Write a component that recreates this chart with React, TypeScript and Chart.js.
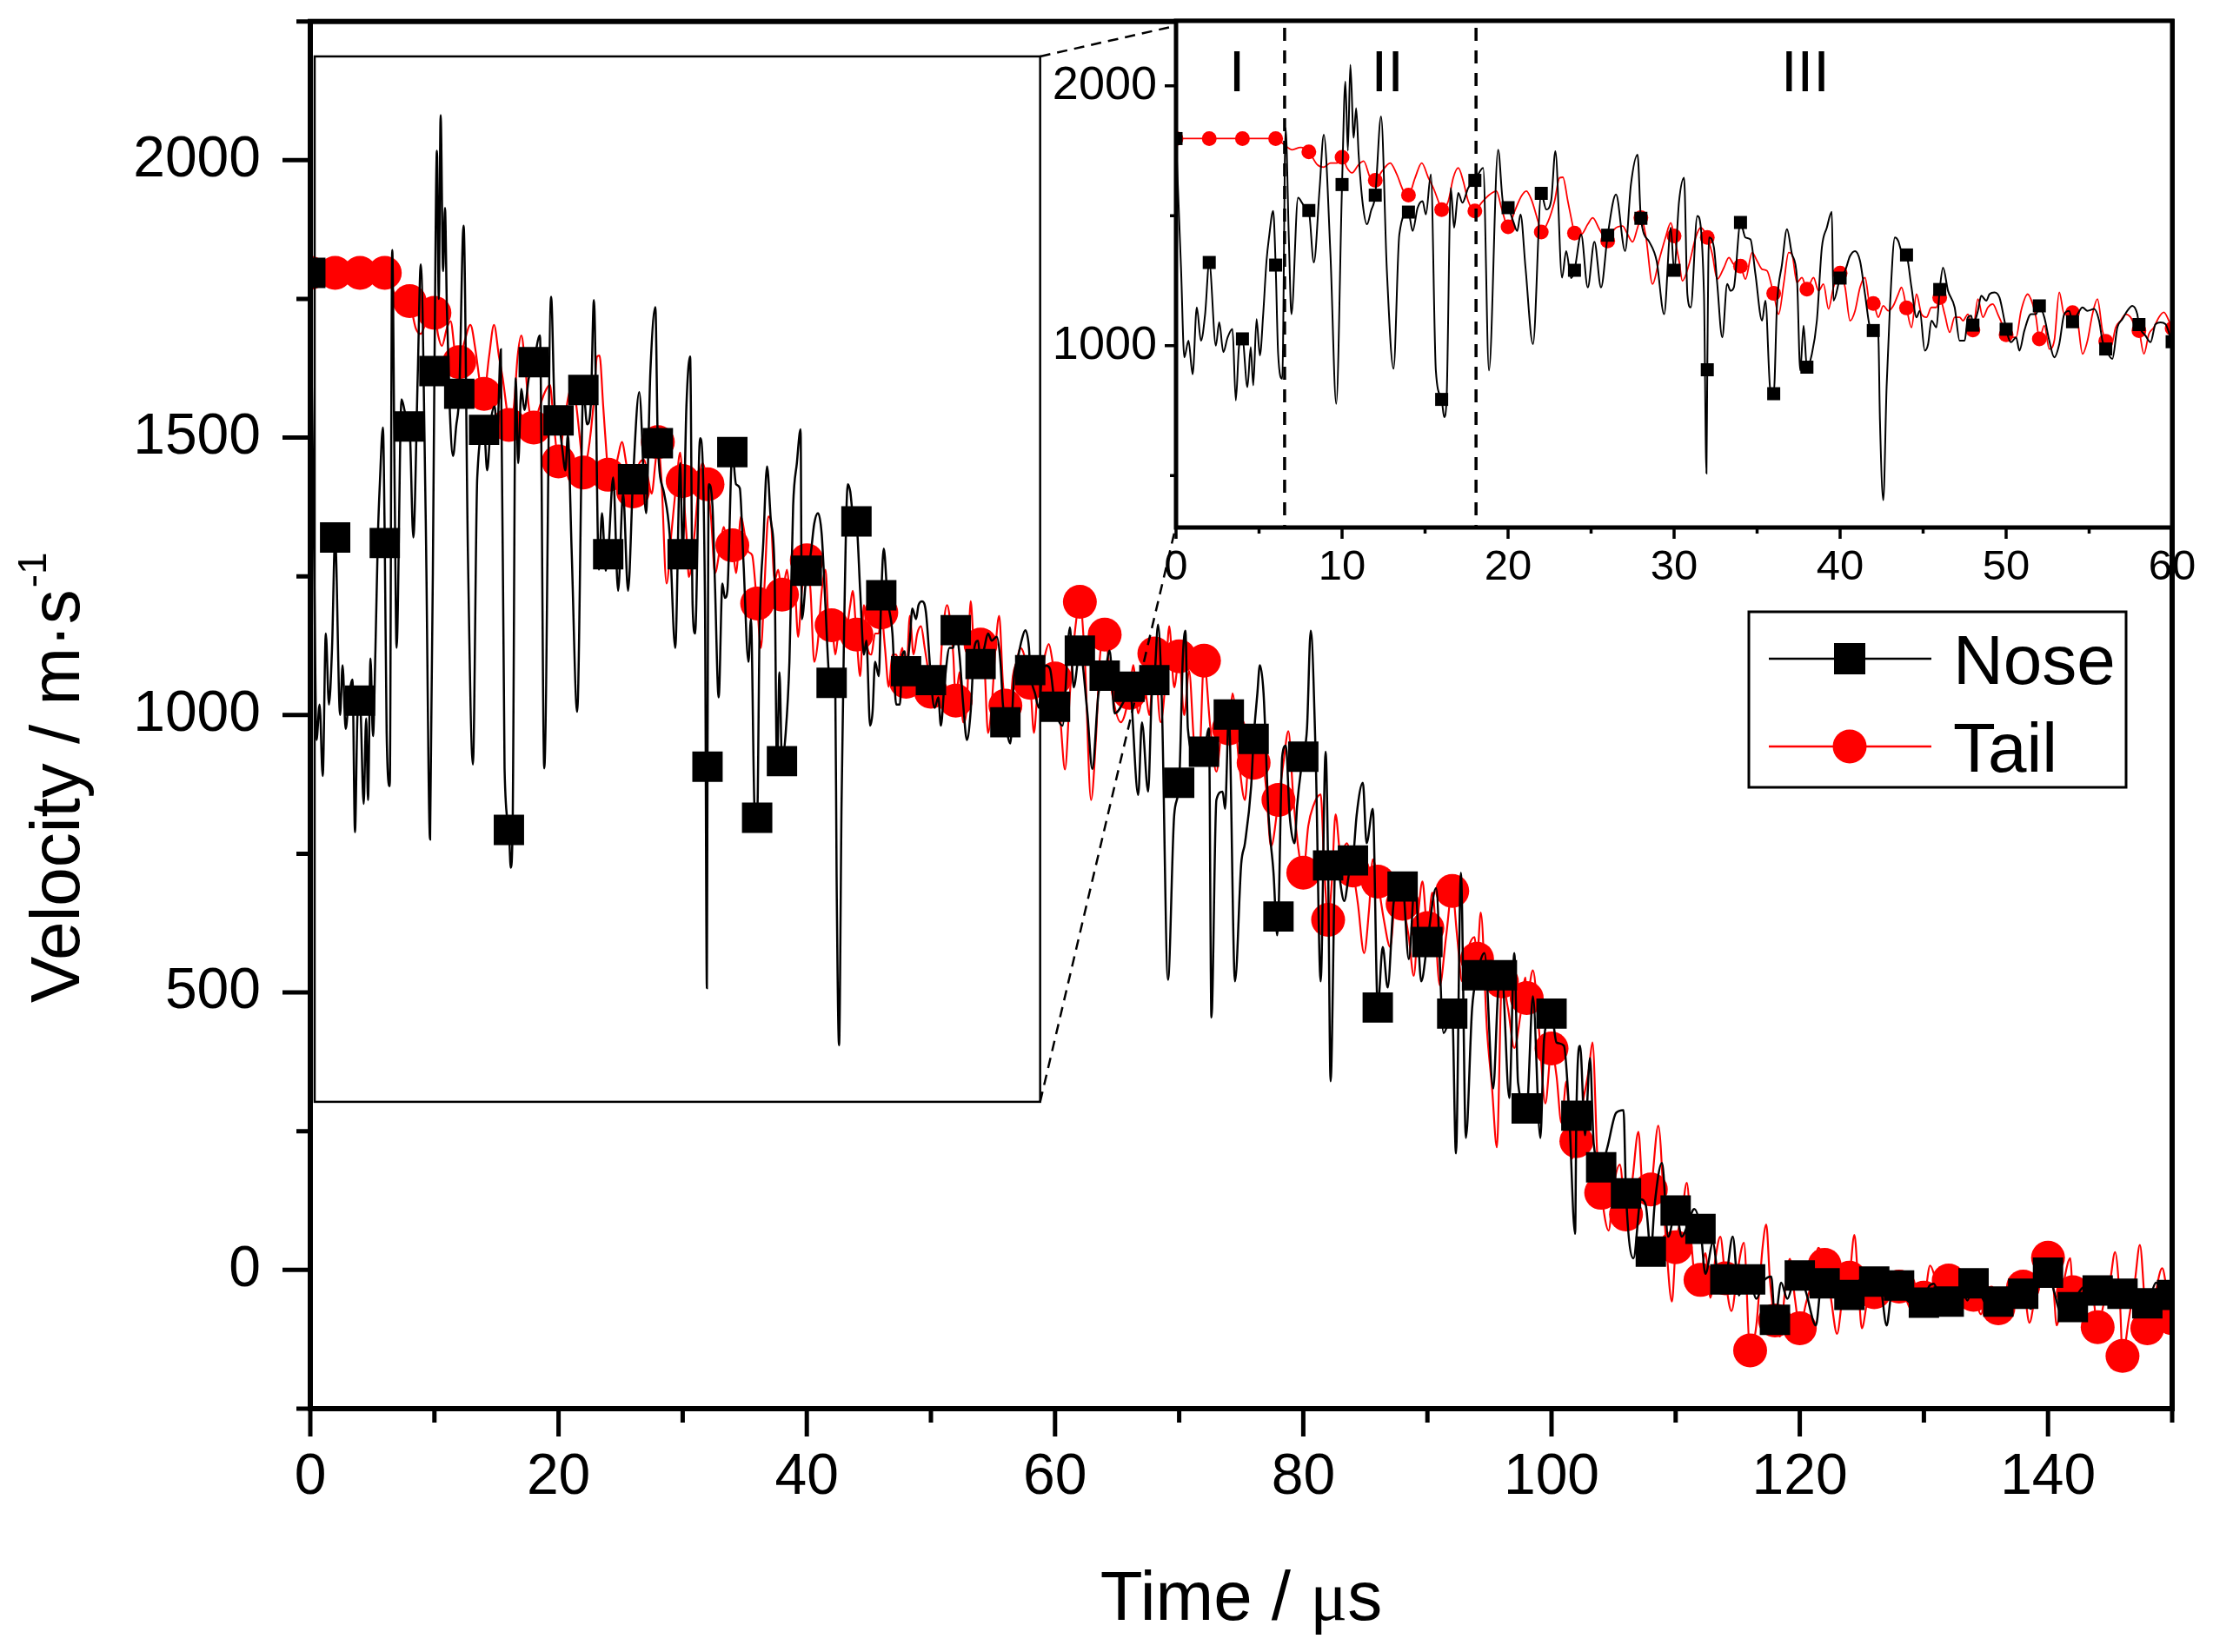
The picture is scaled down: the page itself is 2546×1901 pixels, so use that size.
import React, { useEffect, useRef } from 'react';
import { Chart, registerables } from 'chart.js';

Chart.register(...registerables);

const FONT = '"Liberation Sans", Arial, Helvetica, sans-serif';
const SERIF = '"Liberation Serif", "DejaVu Serif", serif';

// ---------- data: [time (µs), velocity (m/s)] readings ----------
const noseA: number[][] = [
  [0, 1797], [0.3, 1300], [0.5, 955], [0.75, 1019], [1, 890], [1.25, 1147], [1.5, 1019], [1.75, 1120],
  [2, 1320], [2.4, 1000], [2.6, 1090], [2.85, 975], [3.1, 1030], [3.4, 1064], [3.6, 789], [3.8, 1000],
  [4, 1026], [4.3, 840], [4.5, 994], [4.65, 847], [4.85, 1102], [5.05, 962], [5.25, 1121], [5.45, 1326],
  [5.6, 1416], [5.85, 1518], [6, 1310], [6.15, 968], [6.4, 872], [6.6, 1838], [6.8, 1400], [6.95, 1121],
  [7.35, 1569], [7.7, 1540], [8, 1520], [8.3, 1320], [8.65, 1607], [8.9, 1812], [9.3, 1352], [9.65, 776],
  [10, 1620], [10.2, 2017], [10.35, 1750], [10.5, 2081], [10.7, 1800], [10.85, 1914], [11, 1735], [11.25, 1543],
  [11.5, 1467], [11.75, 1520], [12, 1579], [12.35, 1882], [12.7, 1288], [13.1, 911], [13.45, 1428], [14, 1514],
  [14.25, 1441], [14.55, 1530], [14.85, 1556], [15.05, 1505], [15.35, 1659], [15.65, 904], [16, 793], [16.15, 725],
  [16.3, 800], [16.55, 1607], [16.75, 1454], [17, 1588], [17.25, 1550], [17.6, 1607], [18, 1636], [18.5, 1684],
  [18.85, 904], [19.4, 1754], [19.7, 1550], [20, 1531], [20.3, 1480], [20.55, 1441], [20.75, 1505], [21.05, 1300],
  [21.5, 1006], [22, 1586], [22.3, 1524], [22.6, 1560], [22.85, 1748], [23.25, 1262], [23.5, 1364], [23.8, 1260],
  [24, 1290], [24.4, 1428], [24.8, 1224], [25.2, 1400], [25.6, 1224], [26, 1425], [26.5, 1582], [27.05, 1364],
  [27.4, 1620], [27.8, 1735], [28, 1490], [28.5, 1400], [28.95, 1326], [29.4, 1121], [29.8, 1454],
];
const noseB: number[][] = [
  [30, 1290], [30.3, 1556], [30.6, 1646], [30.8, 1198], [31, 1147], [31.4, 1499], [31.8, 1198], [31.95, 508],
  [32, 907], [32.1, 1416], [32.4, 1377], [32.6, 1237], [32.9, 1032], [33.2, 1237], [33.4, 1211], [33.6, 1224],
  [34, 1474], [34.3, 1416], [34.6, 1409], [34.9, 1275], [35.3, 1096], [35.5, 1173], [35.8, 827], [36, 815],
  [36.2, 1160], [36.5, 1313], [36.8, 1448], [37.1, 1352], [37.4, 1262], [37.6, 904], [37.8, 1077], [38, 917],
  [38.3, 968], [38.6, 1096], [38.9, 1377], [39.2, 1454], [39.5, 1515], [39.6, 1173], [40, 1260], [40.3, 1288],
  [40.6, 1345], [40.9, 1364], [41.2, 1326], [41.5, 1198], [41.8, 1070], [42, 1058], [42.3, 1038], [42.4, 712],
  [42.6, 405], [42.8, 840], [43, 1147], [43.3, 1416], [43.5, 1403], [43.7, 1364], [44, 1349], [44.3, 1224],
  [44.6, 1109], [44.8, 1134], [45.1, 981], [45.3, 1006], [45.5, 1096], [45.8, 1070], [46, 1216], [46.2, 1300],
  [46.5, 1211], [46.9, 1147], [47.2, 1019], [47.5, 1019], [47.7, 1109], [47.9, 1115], [48, 1079], [48.3, 1134],
  [48.5, 1192], [48.8, 1173], [49, 1198], [49.3, 1205], [49.6, 1185], [49.9, 1096], [50, 1063], [50.3, 1013],
  [50.6, 1032], [50.8, 981], [51.1, 1058], [51.5, 1121], [51.8, 1121], [52, 1153], [52.3, 1109], [52.6, 1019],
  [52.9, 955], [53.2, 1006], [53.5, 1121], [53.8, 1134], [54, 1092], [54.3, 1121], [54.6, 1147], [54.9, 1134],
  [55.3, 1141], [55.6, 1096], [55.8, 1019], [56, 987], [56.4, 949], [56.7, 1070], [57, 1102], [57.3, 1134],
  [57.6, 1153], [57.9, 1121], [58, 1081], [58.4, 1038], [58.7, 1013], [59, 1083], [59.3, 1089], [59.6, 1083],
  [59.9, 1032],
];
const noseC: number[][] = [
  [60, 1015], [60.6, 981], [61.2, 1158], [61.5, 1050], [62, 1116], [62.6, 1005], [63, 903], [63.5, 1039],
  [64, 1071], [64.4, 1116], [64.8, 1003], [65.5, 1023], [66, 1051], [66.7, 856], [67, 987], [67.5, 862],
  [67.8, 1039], [68, 1063], [68.3, 1163], [68.6, 1028], [69.1, 523], [69.6, 820], [70, 878], [70.3, 1106],
  [70.5, 1152], [70.7, 976], [71.3, 925], [72, 934], [72.4, 976], [72.6, 455], [73, 847], [73.5, 862],
  [73.7, 831], [74, 1001], [74.5, 520], [75, 732], [75.3, 769], [75.8, 872], [76, 957], [76.3, 1039],
  [76.5, 1090], [76.8, 1039], [77.2, 820], [77.6, 716], [77.9, 603], [78, 637], [78.3, 925], [78.6, 945],
  [78.9, 820], [79.3, 769], [79.5, 836], [79.8, 898], [80, 925], [80.3, 976], [80.6, 1152], [81, 925],
  [81.4, 520], [81.8, 934], [82, 729], [82.2, 340], [82.6, 743], [83.3, 665], [83.7, 716], [84, 738],
  [84.3, 820], [84.8, 878], [85.1, 769], [85.6, 831], [86, 473], [86.4, 582], [86.8, 509], [87.3, 665],
  [88, 691], [88.5, 560], [89, 700], [89.5, 520],
];
const noseD: number[][] = [
  [90, 591], [90.7, 688], [91.3, 427], [92, 462], [92.3, 210], [92.7, 716], [93.1, 238], [93.6, 471],
  [94, 531], [94.6, 571], [95.3, 327], [95.7, 504], [96, 531], [96.6, 310], [97, 571], [97.3, 338],
  [98, 291], [98.5, 493], [99.1, 238], [99.4, 416], [100, 462], [100.4, 410], [101, 404], [101.4, 293],
  [101.9, 65], [102, 278], [102.3, 404], [102.7, 243], [103.1, 382], [103.4, 227], [104, 185], [104.5, 221],
  [105.2, 283], [105.8, 288], [106, 138], [106.6, 21], [107.2, 127], [107.6, 116], [108, 33], [108.3, 116],
  [108.9, 193], [109.4, 60], [110, 107], [110.5, 60], [110.9, 77], [111.5, 110], [112, 74], [112.4, -7],
  [113, 49], [113.5, -20], [114, -17], [114.6, 60], [115.1, -46], [115.6, -10], [116, -17], [116.5, -52],
  [117.1, -20], [117.7, -12], [118, -90], [118.5, -23], [119, -52], [119.5, -20],
];
const noseE: number[][] = [
  [120, -10], [120.5, -40], [121.3, -100], [121.7, -30], [122, -24], [122.5, -40], [123, -20], [123.5, -50],
  [124, -45], [124.5, -30], [125, -15], [125.5, -25], [126, -21], [126.5, -30], [127, -100], [127.4, -40],
  [128, -28], [128.5, -50], [129, -60], [129.5, -45], [130, -59], [130.4, -30], [130.8, -25], [131.2, -45],
  [132, -57], [132.5, -40], [133, -30], [133.5, -55], [134, -24], [134.5, -40], [135, -60], [135.5, -50],
  [136, -57], [136.5, -45], [137, -35], [137.5, -50], [138, -43], [138.6, -70], [139.2, -30], [140, -5],
  [140.5, -40], [141, -75], [141.5, -60], [142, -67], [142.5, -40], [143, -30], [143.5, -35], [144, -37],
  [144.5, -45], [145, -30], [145.5, -40], [146, -43], [146.5, -64], [147, -45], [147.5, -50], [148, -60],
  [148.7, -23], [149.3, -40], [150, -45],
];

const tailA: number[][] = [
  [0, 1797], [2, 1797], [4, 1797], [6, 1797], [6.5, 1774], [7, 1754], [7.5, 1763], [8, 1746],
  [8.5, 1697], [8.9, 1687], [9.3, 1703], [9.7, 1703], [10, 1725], [10.3, 1684], [10.6, 1665], [11, 1697],
  [11.3, 1710], [11.7, 1646], [12, 1636], [12.4, 1671], [12.9, 1703], [13.3, 1659], [13.7, 1595], [14, 1579],
  [14.4, 1646], [14.8, 1703], [15.2, 1646], [15.5, 1607], [15.8, 1556], [16, 1523], [16.4, 1556], [16.7, 1646],
  [17, 1684], [17.3, 1633], [17.6, 1556], [18, 1518], [18.4, 1550], [18.9, 1582], [19.3, 1595], [19.6, 1531],
  [20, 1457], [20.4, 1518], [20.8, 1575], [21.1, 1595], [21.4, 1563], [21.8, 1480], [22, 1437], [22.4, 1476],
  [22.8, 1556], [23.1, 1646], [23.3, 1648], [23.6, 1556], [23.9, 1460], [24, 1433], [24.4, 1428], [24.8, 1467],
  [25.1, 1492], [25.5, 1448], [26, 1403], [26.4, 1448], [26.9, 1460], [27.2, 1428], [27.5, 1399], [27.8, 1454],
  [28, 1492], [28.3, 1420], [28.7, 1237], [29.1, 1330], [29.5, 1420], [29.8, 1473],
];
const tailB: number[][] = [
  [30, 1422], [30.3, 1326], [30.5, 1249], [30.9, 1313], [31.3, 1416], [31.6, 1454], [32, 1416], [32.3, 1352],
  [32.6, 1256], [33, 1300], [33.3, 1339], [33.6, 1313], [34, 1306], [34.3, 1256], [34.7, 1358], [35, 1326],
  [35.3, 1294], [35.6, 1288], [35.9, 1224], [36, 1201], [36.3, 1121], [36.6, 1237], [36.9, 1358], [37.1, 1352],
  [37.4, 1243], [37.7, 1262], [38, 1217], [38.4, 1262], [38.7, 1211], [39, 1237], [39.3, 1141], [39.6, 1224],
  [40, 1279], [40.3, 1224], [40.6, 1096], [40.9, 1134], [41.2, 1224], [41.5, 1262], [41.8, 1160], [42, 1162],
  [42.3, 1109], [42.6, 1153], [42.9, 1134], [43.2, 1153], [43.5, 1198], [43.7, 1224], [44, 1145], [44.3, 1070],
  [44.6, 1198], [44.9, 1121], [45.2, 1109], [45.5, 1147], [45.8, 1147], [46, 1185], [46.3, 1121], [46.6, 1051],
  [46.9, 1109], [47.2, 1109], [47.4, 1096], [47.7, 1121], [48, 1060], [48.3, 1179], [48.6, 1109], [48.9, 1147],
  [49.2, 1160], [49.5, 1121], [49.8, 1077], [50, 1042], [50.3, 1032], [50.6, 1032], [50.9, 1134], [51.3, 1198],
  [51.6, 1160], [51.8, 1109], [52, 1026], [52.3, 1077], [52.6, 987], [52.9, 1019], [53.2, 1205], [53.5, 1121],
  [53.8, 1121], [54, 1127], [54.3, 1096], [54.6, 968], [54.9, 1019], [55.2, 1121], [55.5, 1179], [55.8, 1058],
  [56, 1017], [56.3, 994], [56.6, 1070], [56.9, 1096], [57.2, 1121], [57.5, 1109], [57.8, 1070], [58, 1058],
  [58.3, 968], [58.6, 1045], [58.9, 1070], [59.2, 1109], [59.5, 1128], [59.8, 1096],
];
const tailC: number[][] = [
  [60, 1066], [60.4, 1000], [60.8, 902], [61.2, 1040], [61.6, 1150], [62, 1204], [62.4, 1100], [62.9, 847],
  [63.3, 960], [63.6, 1100], [64, 1145], [64.6, 1039], [65.3, 987], [66, 1040], [66.3, 1090], [66.7, 1003],
  [67.2, 1050], [67.6, 1000], [68, 1111], [68.5, 987], [68.9, 1060], [69.2, 1160], [69.6, 1050], [70, 1106],
  [70.4, 1000], [70.8, 1080], [71.2, 950], [71.6, 914], [72, 1098], [72.5, 980], [73, 898], [73.5, 980],
  [74, 976], [74.3, 1039], [74.8, 920], [75.3, 847], [75.7, 950], [76, 914], [76.5, 950], [77, 870],
  [77.4, 763], [78, 847], [78.4, 914], [78.8, 971], [79.2, 850], [79.6, 760], [80, 716], [80.4, 800],
  [80.8, 836], [81.4, 857], [81.7, 720], [82, 631], [82.3, 700], [82.6, 821], [83, 750], [83.5, 769],
  [84, 720], [84.4, 660], [84.9, 571], [85.3, 650], [85.6, 740], [86, 700], [86.5, 630], [87, 582],
  [87.5, 690], [88, 660], [88.5, 600], [88.9, 530], [89.3, 650], [89.6, 700],
];
const tailD: number[][] = [
  [90, 616], [90.4, 680], [91, 513], [91.5, 600], [92, 683], [92.4, 600], [92.8, 520], [93.3, 580],
  [93.8, 600], [94, 561], [94.3, 644], [94.8, 432], [95.2, 330], [95.6, 221], [96, 520], [96.5, 470],
  [97, 400], [97.5, 460], [97.9, 527], [98, 490], [98.5, 540], [99, 430], [99.5, 300], [100, 399],
  [100.4, 350], [100.8, 265], [101.2, 340], [101.6, 200], [102, 232], [102.5, 300], [103, 360], [103.3, 410],
  [103.7, 200], [104, 139], [104.6, 71], [105, 150], [105.5, 190], [106, 100], [106.5, 160], [107, 249],
  [107.4, 130], [108, 145], [108.6, 260], [109.2, 60], [109.7, -57], [110, 41], [110.5, 100], [110.9, 157],
  [111.3, 40], [111.7, -40], [112, -18], [112.4, 30], [112.8, -50], [113.2, 20], [113.6, 60], [114, -15],
  [114.5, -74], [115, 0], [115.5, 49], [116, -145], [116.5, -100], [117, 40], [117.3, 82], [117.6, -20],
  [118, -91], [118.4, -120], [118.8, -40], [119.2, 20], [119.6, -50],
];
const tailE: number[][] = [
  [120, -105], [120.5, -60], [121, -20], [121.5, 40], [122, 9], [122.5, -50], [123, -115], [123.5, -40],
  [124, -14], [124.4, 63], [124.7, -20], [125, -105], [125.5, -50], [126, -40], [126.5, -30], [127, -45],
  [127.5, -20], [128, -30], [128.5, -50], [129.2, -80], [129.7, -30], [130, -50], [130.5, 8], [131, -20],
  [131.5, -40], [132, -19], [132.5, -30], [133, -10], [133.5, -40], [134, -45], [134.6, -80], [135, -40],
  [135.5, -30], [136, -69], [136.5, -40], [137, -20], [137.5, -45], [138, -30], [138.5, -95], [139, -40],
  [139.5, 10], [140, 22], [140.4, -20], [140.7, -100], [141.2, -30], [141.8, 21], [142, -40], [142.5, -20],
  [143, -60], [143.5, -30], [144, -103], [144.5, -60], [145, -20], [145.4, 32], [145.8, -60], [146, -155],
  [146.5, -90], [147, -20], [147.4, 45], [147.8, -60], [148, -105], [148.5, -60], [149.2, 3], [149.6, -40],
  [150, -87],
];

const SERIES_NAMES = ['Nose', 'Tail'];
const MARKER_EVERY = 2; // µs between plotted symbols

// ---------- ticks / labels ----------
const mainXLabels = [0, 20, 40, 60, 80, 100, 120, 140];
const mainXMinor = [10, 30, 50, 70, 90, 110, 130, 150];
const mainYLabels = [0, 500, 1000, 1500, 2000];
const mainYMinor = [-250, 250, 750, 1250, 1750, 2250];
const insetXLabels = [0, 10, 20, 30, 40, 50, 60];
const insetXMinor = [5, 15, 25, 35, 45, 55];
const insetYLabels = [1000, 2000];
const insetYMinor = [500, 1500];
const regionNames = ['I', 'II', 'III'];
const regionNameTimes = [3.67, 12.73, 37.9];
const regionBounds = [6.54, 18.07];

const toPoints = (...segs: number[][][]) => segs.flat().map(([x, y]) => ({ x, y }));
const nosePoints = toPoints(noseA, noseB, noseC, noseD, noseE);
const tailPoints = toPoints(tailA, tailB, tailC, tailD, tailE);

const isMarkerTime = (x: number) =>
  Math.abs(x / MARKER_EVERY - Math.round(x / MARKER_EVERY)) < 1e-6;

function drawFrame(chart: any, s: any) {
  const { ctx, chartArea: a } = chart;
  const xs = chart.scales.x;
  const ys = chart.scales.y;
  ctx.save();
  ctx.strokeStyle = '#000';
  ctx.lineWidth = s.tickWidth;
  ctx.lineCap = 'butt';
  ctx.beginPath();
  const xt = (vals: number[], len: number) => vals.forEach((v) => {
    const p = xs.getPixelForValue(v);
    ctx.moveTo(p, a.bottom);
    ctx.lineTo(p, a.bottom + len);
  });
  const yt = (vals: number[], len: number) => vals.forEach((v) => {
    const p = ys.getPixelForValue(v);
    ctx.moveTo(a.left, p);
    ctx.lineTo(a.left - len, p);
  });
  xt(s.xMajor, s.major);
  xt(s.xMinor, s.minor);
  yt(s.yMajor, s.major);
  yt(s.yMinor, s.minor);
  ctx.stroke();
  ctx.lineWidth = s.frameWidth;
  ctx.lineJoin = 'miter';
  ctx.strokeRect(a.left, a.top, a.right - a.left, a.bottom - a.top);
  ctx.restore();
}

const zoomBox = { x0: 0.35, x1: 58.8, y0: 303, y1: 2187 };
const insetCorner = { x: 69.7, yTop: 2242, yBottom: 1337 };

const mainDecor = {
  id: 'mainDecor',
  beforeDraw(chart: any) {
    const { ctx, width, height } = chart;
    ctx.save();
    ctx.fillStyle = '#fff';
    ctx.fillRect(0, 0, width, height);
    ctx.restore();
  },
  afterDatasetsDraw(chart: any) {
    const { ctx } = chart;
    const xs = chart.scales.x;
    const ys = chart.scales.y;
    const bx0 = xs.getPixelForValue(zoomBox.x0);
    const bx1 = xs.getPixelForValue(zoomBox.x1);
    const by0 = ys.getPixelForValue(zoomBox.y0);
    const by1 = ys.getPixelForValue(zoomBox.y1);
    ctx.save();
    ctx.strokeStyle = '#000';
    ctx.lineWidth = 2.5;
    ctx.strokeRect(bx0, by1, bx1 - bx0, by0 - by1);
    ctx.setLineDash([12, 8]);
    ctx.lineWidth = 2.5;
    const ix = xs.getPixelForValue(insetCorner.x);
    ctx.beginPath();
    ctx.moveTo(bx1, by1);
    ctx.lineTo(ix, ys.getPixelForValue(insetCorner.yTop));
    ctx.moveTo(bx1, by0);
    ctx.lineTo(ix, ys.getPixelForValue(insetCorner.yBottom));
    ctx.stroke();
    ctx.restore();
  },
  afterDraw(chart: any) {
    drawFrame(chart, {
      tickWidth: 5, frameWidth: 6, major: 32, minor: 16,
      xMajor: mainXLabels, xMinor: mainXMinor, yMajor: mainYLabels, yMinor: mainYMinor,
    });
    const { ctx } = chart;
    ctx.save();
    ctx.fillStyle = '#000';
    ctx.textBaseline = 'alphabetic';
    // x title
    const p1 = 'Time / ';
    const p2 = '\u03bc';
    const p3 = 's';
    ctx.font = `80px ${FONT}`;
    const w1 = ctx.measureText(p1).width;
    const w3 = ctx.measureText(p3).width;
    ctx.font = `80px ${SERIF}`;
    const w2 = ctx.measureText(p2).width;
    const tx = 1428 - (w1 + w2 + w3) / 2;
    const ty = 1864;
    ctx.textAlign = 'left';
    ctx.font = `80px ${FONT}`;
    ctx.fillText(p1, tx, ty);
    ctx.font = `80px ${SERIF}`;
    ctx.fillText(p2, tx + w1, ty);
    ctx.font = `80px ${FONT}`;
    ctx.fillText(p3, tx + w1 + w2, ty);
    // y title
    ctx.save();
    ctx.translate(91, 1154);
    ctx.rotate(-Math.PI / 2);
    ctx.font = `80px ${FONT}`;
    const yt = 'Velocity / m\u00b7s';
    ctx.fillText(yt, 0, 0);
    const wy = ctx.measureText(yt).width;
    ctx.font = `46px ${FONT}`;
    ctx.fillText('-1', wy + 2, -38);
    ctx.restore();
    // legend
    const L = { x: 2012, y: 704, w: 434, h: 202 };
    ctx.lineWidth = 3;
    ctx.strokeStyle = '#000';
    ctx.strokeRect(L.x, L.y, L.w, L.h);
    const rows = [
      { y: 758, color: '#000', shape: 'rect', base: 787 },
      { y: 859, color: '#ff0000', shape: 'circle', base: 888 },
    ];
    rows.forEach((r, i) => {
      ctx.strokeStyle = r.color;
      ctx.lineWidth = 2.5;
      ctx.beginPath();
      ctx.moveTo(2035, r.y);
      ctx.lineTo(2222, r.y);
      ctx.stroke();
      ctx.fillStyle = r.color;
      if (r.shape === 'rect') {
        ctx.fillRect(2128 - 18, r.y - 18, 36, 36);
      } else {
        ctx.beginPath();
        ctx.arc(2128, r.y, 19.5, 0, Math.PI * 2);
        ctx.fill();
      }
      ctx.fillStyle = '#000';
      ctx.font = `80px ${FONT}`;
      ctx.textAlign = 'left';
      ctx.fillText(SERIES_NAMES[i], 2247, r.base);
    });
    ctx.restore();
  },
};

const insetDecor = {
  id: 'insetDecor',
  beforeDraw(chart: any) {
    const { ctx, chartArea: a } = chart;
    if (!a) return;
    ctx.save();
    ctx.fillStyle = '#fff';
    ctx.fillRect(a.left, a.top, a.right - a.left, a.bottom - a.top);
    ctx.restore();
  },
  afterDatasetsDraw(chart: any) {
    const { ctx, chartArea: a } = chart;
    const xs = chart.scales.x;
    const ys = chart.scales.y;
    ctx.save();
    ctx.strokeStyle = '#000';
    ctx.lineWidth = 3.5;
    ctx.setLineDash([15, 11]);
    ctx.beginPath();
    regionBounds.forEach((t) => {
      const p = xs.getPixelForValue(t);
      ctx.moveTo(p, a.top + 8);
      ctx.lineTo(p, a.bottom);
    });
    ctx.stroke();
    ctx.setLineDash([]);
    ctx.fillStyle = '#000';
    ctx.font = `67px ${FONT}`;
    ctx.textAlign = 'center';
    ctx.textBaseline = 'alphabetic';
    const by = ys.getPixelForValue(1979);
    regionNames.forEach((n, i) => {
      ctx.fillText(n, xs.getPixelForValue(regionNameTimes[i]), by);
    });
    ctx.restore();
  },
  afterDraw(chart: any) {
    drawFrame(chart, {
      tickWidth: 3.5, frameWidth: 5, major: 13, minor: 7,
      xMajor: insetXLabels, xMinor: insetXMinor, yMajor: insetYLabels, yMinor: insetYMinor,
    });
  },
};

function makeDatasets(sq: number, ci: number, lwN: number, lwT: number) {
  return [
    {
      label: SERIES_NAMES[0],
      data: nosePoints,
      borderColor: '#000',
      borderWidth: lwN,
      pointStyle: 'rect',
      pointBackgroundColor: '#000',
      pointBorderWidth: 0,
      pointRadius: (c: any) => (c.raw && isMarkerTime(c.raw.x) ? sq : 0),
      pointHoverRadius: 0,
      cubicInterpolationMode: 'monotone',
      fill: false,
    },
    {
      label: SERIES_NAMES[1],
      data: tailPoints,
      borderColor: '#ff0000',
      borderWidth: lwT,
      pointStyle: 'circle',
      pointBackgroundColor: '#ff0000',
      pointBorderWidth: 0,
      pointRadius: (c: any) => (c.raw && isMarkerTime(c.raw.x) ? ci : 0),
      pointHoverRadius: 0,
      cubicInterpolationMode: 'monotone',
      fill: false,
    },
  ];
}

function axis(min: number, max: number, step: number, labels: number[], size: number, padding: number, fit: (s: any) => void) {
  return {
    type: 'linear',
    min,
    max,
    grid: { display: false, drawTicks: false },
    border: { display: false },
    ticks: {
      stepSize: step,
      autoSkip: false,
      maxRotation: 0,
      minRotation: 0,
      padding,
      color: '#000',
      font: { family: FONT, size },
      callback: (v: any) => (labels.some((l) => Math.abs(l - Number(v)) < 1e-6) ? String(Math.round(Number(v))) : null),
    },
    afterFit: (s: any) => {
      fit(s);
      s.paddingTop = 0;
      s.paddingBottom = 0;
      s.paddingLeft = 0;
      s.paddingRight = 0;
    },
  };
}

export default function App() {
  const mainRef = useRef<HTMLCanvasElement>(null);
  const insetRef = useRef<HTMLCanvasElement>(null);

  useEffect(() => {
    Chart.defaults.font.family = FONT;
    const main = new Chart(mainRef.current as HTMLCanvasElement, {
      type: 'line',
      data: { datasets: makeDatasets(24.7, 19.5, 2.5, 2.2) as any },
      options: {
        responsive: false,
        animation: false,
        devicePixelRatio: 1,
        events: [],
        layout: { padding: { top: 24, right: 47, left: 0, bottom: 0 } },
        plugins: { legend: { display: false }, tooltip: { enabled: false } },
        scales: {
          x: axis(0, 150, 10, mainXLabels, 66, 40, (s: any) => { s.height = 280; }),
          y: axis(-250, 2250, 250, mainYLabels, 66, 57, (s: any) => { s.width = 357; }),
        } as any,
      },
      plugins: [mainDecor],
    } as any);
    const inset = new Chart(insetRef.current as HTMLCanvasElement, {
      type: 'line',
      data: { datasets: makeDatasets(10.6, 8.5, 2, 1.8) as any },
      options: {
        responsive: false,
        animation: false,
        devicePixelRatio: 1,
        events: [],
        layout: { padding: { top: 24, right: 47, left: 0, bottom: 0 } },
        plugins: { legend: { display: false }, tooltip: { enabled: false } },
        scales: {
          x: axis(0, 60, 5, insetXLabels, 49, 17, (s: any) => { s.height = 113; }),
          y: axis(300, 2250, 50, insetYLabels, 54, 22, (s: any) => { s.width = 203; }),
        } as any,
      },
      plugins: [insetDecor],
    } as any);
    return () => {
      main.destroy();
      inset.destroy();
    };
  }, []);

  return (
    <div style={{ position: 'absolute', left: 0, top: 0, width: 2546, height: 1901, background: '#fff', overflow: 'hidden' }}>
      <canvas ref={mainRef} width={2546} height={1901} style={{ position: 'absolute', left: 0, top: 0, width: 2546, height: 1901 }} />
      <canvas ref={insetRef} width={1396} height={720} style={{ position: 'absolute', left: 1150, top: 0, width: 1396, height: 720 }} />
    </div>
  );
}
